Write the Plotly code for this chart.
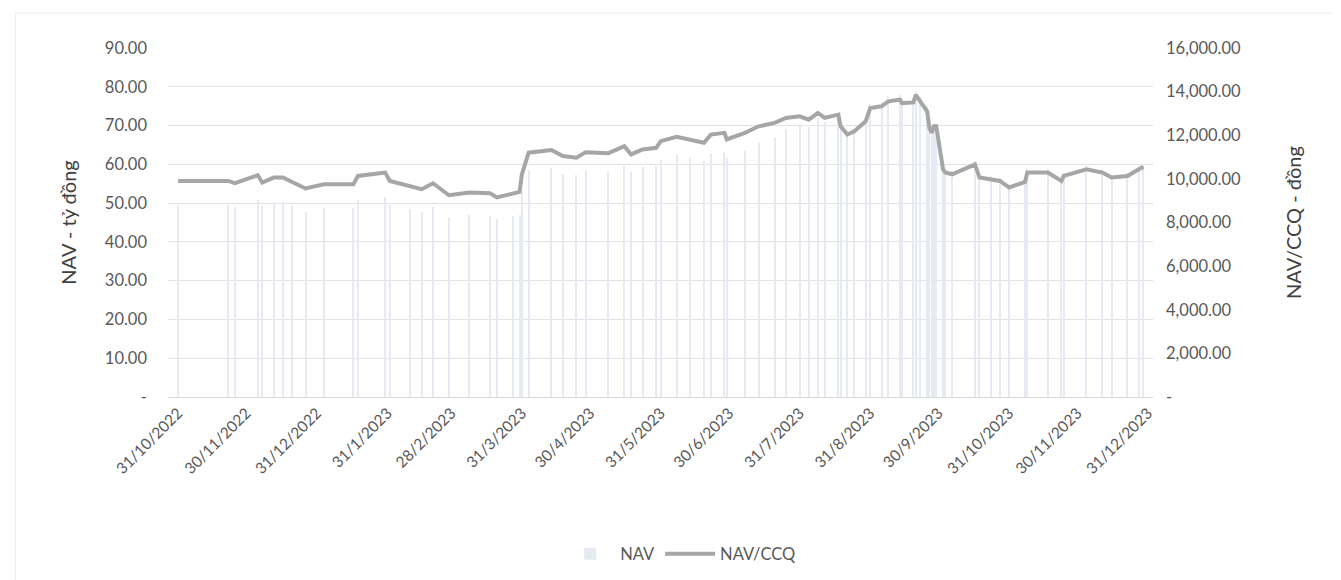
import plotly.graph_objects as go

# ---- data ----
dates = [
    "2022-10-31", "2022-11-22", "2022-11-25", "2022-12-05", "2022-12-07", "2022-12-12",
    "2022-12-16", "2022-12-20", "2022-12-26", "2023-01-03", "2023-01-16", "2023-01-18",
    "2023-01-30", "2023-02-01", "2023-02-10", "2023-02-15", "2023-02-20", "2023-02-27",
    "2023-03-08", "2023-03-17", "2023-03-20", "2023-03-27", "2023-03-30", "2023-03-31",
    "2023-04-03", "2023-04-13", "2023-04-18", "2023-04-24", "2023-04-28", "2023-05-08",
    "2023-05-15", "2023-05-18", "2023-05-23", "2023-05-29", "2023-05-31", "2023-06-07",
    "2023-06-13", "2023-06-19", "2023-06-22", "2023-06-28", "2023-06-29", "2023-07-07",
    "2023-07-13", "2023-07-20", "2023-07-25", "2023-07-31", "2023-08-04", "2023-08-08",
    "2023-08-11", "2023-08-17", "2023-08-18", "2023-08-21", "2023-08-24", "2023-08-29",
    "2023-08-31", "2023-09-05", "2023-09-08", "2023-09-13", "2023-09-14", "2023-09-19",
    "2023-09-20", "2023-09-22", "2023-09-25", "2023-09-26", "2023-09-27", "2023-09-28",
    "2023-09-29", "2023-10-02", "2023-10-03", "2023-10-06", "2023-10-16", "2023-10-18",
    "2023-10-23", "2023-10-27", "2023-10-31", "2023-11-07", "2023-11-08", "2023-11-17",
    "2023-11-23", "2023-11-24", "2023-12-04", "2023-12-11", "2023-12-15", "2023-12-22",
    "2023-12-27", "2023-12-29",
]

nav_ccq = [
    9905, 9905, 9800, 10165, 9830, 10060,
    10060, 9860, 9560, 9750, 9750, 10135,
    10290, 9905, 9680, 9525, 9800, 9250,
    9375, 9345, 9150, 9345, 9400, 10200,
    11200, 11320, 11045, 10970, 11225, 11180,
    11500, 11120, 11350, 11425, 11730, 11930,
    11805, 11655, 12030, 12110, 11805, 12110,
    12410, 12565, 12795, 12870, 12715, 13020,
    12795, 12945, 12410, 12030, 12185, 12640,
    13250, 13325, 13555, 13630, 13475, 13505,
    13855, 13555, 13100, 12340, 12110, 12410,
    12410, 10440, 10290, 10210, 10665, 10060,
    9985, 9905, 9605, 9860, 10290, 10290,
    9905, 10135, 10440, 10290, 10060, 10135,
    10440, 10560,
]

nav = [
    49.5, 49.5, 49.0, 50.8, 49.2, 50.3,
    50.3, 49.3, 47.8, 48.8, 48.8, 50.7,
    51.5, 49.5, 48.4, 47.6, 49.0, 46.3,
    46.9, 46.7, 45.8, 46.7, 47.0, 53.0,
    58.5, 59.0, 57.6, 57.2, 58.6, 58.4,
    60.0, 58.0, 59.2, 59.6, 61.2, 62.3,
    61.6, 60.8, 62.8, 63.2, 61.6, 63.5,
    65.5, 67.0, 69.0, 70.0, 69.5, 72.0,
    71.0, 72.5, 70.0, 68.0, 69.0, 72.0,
    75.5, 76.0, 77.5, 78.0, 77.0, 77.2,
    79.0, 77.5, 75.0, 70.5, 69.0, 70.5,
    70.5, 59.5, 58.6, 58.2, 60.8, 57.3,
    56.9, 56.5, 54.8, 56.2, 58.7, 58.7,
    56.5, 57.8, 59.5, 58.7, 57.3, 57.8,
    59.5, 60.2,
]

x_tick_dates = [
    "2022-10-31", "2022-11-30", "2022-12-31", "2023-01-31", "2023-02-28",
    "2023-03-31", "2023-04-30", "2023-05-31", "2023-06-30", "2023-07-31",
    "2023-08-31", "2023-09-30", "2023-10-31", "2023-11-30", "2023-12-31",
]
x_tick_labels = [
    "31/10/2022", "30/11/2022", "31/12/2022", "31/1/2023", "28/2/2023",
    "31/3/2023", "30/4/2023", "31/5/2023", "30/6/2023", "31/7/2023",
    "31/8/2023", "30/9/2023", "31/10/2023", "30/11/2023", "31/12/2023",
]

left_ticks = [0, 10, 20, 30, 40, 50, 60, 70, 80, 90]
left_labels = ["-", "10.00", "20.00", "30.00", "40.00", "50.00", "60.00", "70.00", "80.00", "90.00"]
right_ticks = [0, 2000, 4000, 6000, 8000, 10000, 12000, 14000, 16000]
right_labels = ["-", "2,000.00", "4,000.00", "6,000.00", "8,000.00", "10,000.00",
                "12,000.00", "14,000.00", "16,000.00"]

# ---- figure ----
FONT = "Lato, 'Open Sans', sans-serif"
TXT = "#595959"

fig = go.Figure()
fig.add_trace(go.Bar(
    x=dates, y=nav, name="NAV",
    marker=dict(color="#e6ebf3", line=dict(width=0)),
    width=0.45 * 86400000,
    yaxis="y",
))
fig.add_trace(go.Scatter(
    x=dates, y=nav_ccq, name="NAV/CCQ", mode="lines",
    line=dict(color="#a6a6a6", width=4),
    yaxis="y2",
))

fig.update_layout(
    width=1341, height=580,
    paper_bgcolor="white", plot_bgcolor="white",
    margin=dict(l=160, r=196, t=40, b=191),
    font=dict(family=FONT, color=TXT, size=16),
    bargap=0,
    xaxis=dict(
        type="date",
        range=["2022-10-26 14:00", "2024-01-02 05:00"],
        tickvals=x_tick_dates, ticktext=x_tick_labels,
        tickangle=-45, tickfont=dict(size=15.5, color=TXT),
        showgrid=False, showline=True, linecolor="#d9d9d9", linewidth=1,
        ticks="", zeroline=False,
    ),
    yaxis=dict(
        range=[0, 90], tickvals=left_ticks, ticktext=left_labels,
        tickfont=dict(size=16.5, color=TXT),
        showgrid=True, gridcolor="#e3e3e3", gridwidth=1, zeroline=False,
        title=dict(text="NAV - tỷ đồng", font=dict(size=20, color="#404040"), standoff=22),
        ticks="", ticklabelstandoff=20,
    ),
    yaxis2=dict(
        range=[0, 16000], tickvals=right_ticks, ticktext=right_labels,
        overlaying="y", side="right",
        tickfont=dict(size=16.5, color=TXT),
        showgrid=False, zeroline=False,
        title=dict(text="NAV/CCQ - đồng", font=dict(size=20, color="#404040"), standoff=46),
        ticks="", ticklabelstandoff=12,
    ),
    legend=dict(
        orientation="h", x=0.52, xanchor="center", y=-0.45, yanchor="middle",
        font=dict(size=16.5, color=TXT), traceorder="normal",
        itemwidth=50,
    ),
    shapes=[dict(
        type="rect", xref="paper", yref="paper",
        x0=-0.155, x1=1.19, y0=-0.55, y1=1.1,
        line=dict(color="#ececec", width=1), fillcolor="rgba(0,0,0,0)", layer="below",
    )],
)

fig.write_html("out.html")
